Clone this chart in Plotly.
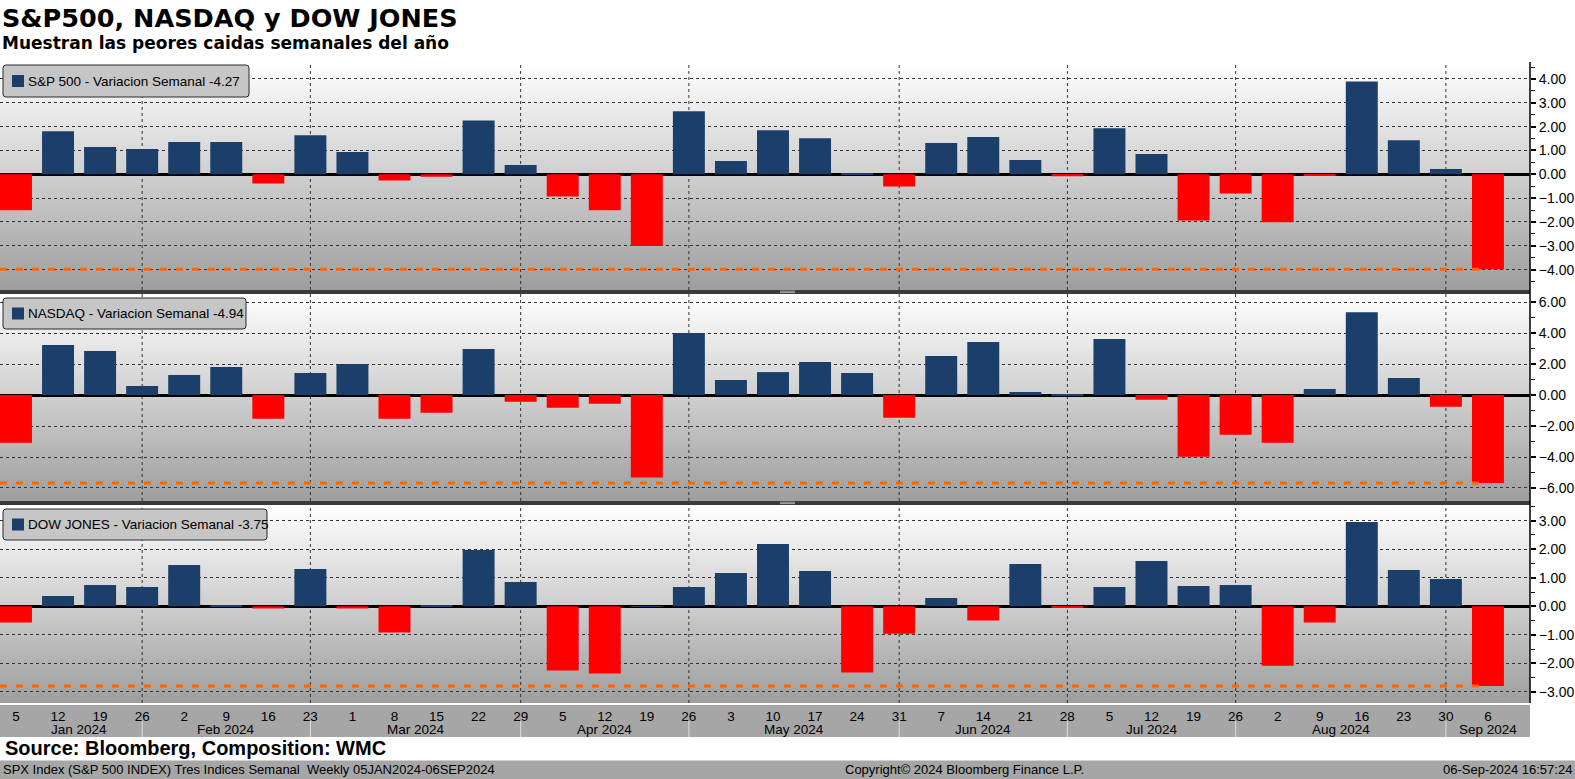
import pandas as pd
import plotly.graph_objects as go
from plotly.subplots import make_subplots

# Semanas (viernes)
weeks = pd.date_range("2024-01-05", "2024-09-06", freq="W-FRI")
day_labels = [str(d.day) for d in weeks]
month_names = ["Jan 2024", "Feb 2024", "Mar 2024", "Apr 2024", "May 2024",
               "Jun 2024", "Jul 2024", "Aug 2024", "Sep 2024"]

# Variacion semanal (%)
spx = [-1.51, 1.81, 1.14, 1.06, 1.35, 1.35, -0.39, 1.64, 0.93, -0.26, -0.10, 2.26,
       0.39, -0.93, -1.51, -3.01, 2.64, 0.56, 1.85, 1.51, 0.03, -0.51, 1.31, 1.56,
       0.60, -0.08, 1.93, 0.85, -1.94, -0.81, -2.01, -0.04, 3.89, 1.43, 0.22, -3.98]
ndx = [-3.08, 3.23, 2.84, 0.58, 1.29, 1.81, -1.53, 1.42, 2.00, -1.53, -1.14, 2.97,
       -0.43, -0.82, -0.56, -5.33, 4.00, 0.97, 1.48, 2.13, 1.42, -1.46, 2.52, 3.42,
       0.19, 0.02, 3.61, -0.30, -3.98, -2.56, -3.08, 0.39, 5.35, 1.10, -0.75, -5.68]
dji = [-0.57, 0.36, 0.75, 0.68, 1.45, 0.04, -0.08, 1.31, -0.08, -0.92, 0.02, 1.97,
       0.85, -2.25, -2.36, 0.01, 0.68, 1.17, 2.18, 1.24, -2.32, -0.96, 0.29, -0.50,
       1.48, -0.03, 0.68, 1.59, 0.71, 0.75, -2.08, -0.57, 2.95, 1.27, 0.96, -2.79]

names = ["S&P 500 - Variacion Semanal -4.27",
         "NASDAQ - Variacion Semanal -4.94",
         "DOW JONES - Variacion Semanal -3.75"]

BLUE = "#1b3f6a"
RED = "#ff0000"
ORANGE = "#ff6600"
FONT = "Liberation Sans, Arial, sans-serif"

W, H = 1575, 779
TOP, BOTTOM, RIGHT = 62, 703, 1530
PH = BOTTOM - TOP


def py(y):
    # pixel -> paper (vertical)
    return (BOTTOM - y) / PH


def px(x):
    return x / RIGHT


def round_box(x0, y0, x1, y1, r=3):
    # rectangulo redondeado en coordenadas paper (a partir de pixeles)
    return (f"M {px(x0 + r)},{py(y0)} L {px(x1 - r)},{py(y0)} "
            f"Q {px(x1)},{py(y0)} {px(x1)},{py(y0 + r)} L {px(x1)},{py(y1 - r)} "
            f"Q {px(x1)},{py(y1)} {px(x1 - r)},{py(y1)} L {px(x0 + r)},{py(y1)} "
            f"Q {px(x0)},{py(y1)} {px(x0)},{py(y1 - r)} L {px(x0)},{py(y0 + r)} "
            f"Q {px(x0)},{py(y0)} {px(x0 + r)},{py(y0)} Z")


idx = list(range(len(weeks)))
x_range = [-0.38, 36.0]

# fin de mes (ultimo viernes) salvo el ultimo mes
month_end = [int(g.index.max()) for _, g in
             pd.Series(idx, index=idx).groupby([d.month for d in weeks])][:-1]
bounds = [0] + month_end + [x_range[1]]
month_pos = [(bounds[i] + bounds[i + 1]) / 2 for i in range(len(month_names))]

panels = [
    dict(vals=spx, rng=[-4.855, 4.71], dtick=1, minor=0.5, dom=[py(290), 1.0],
         box=(3, 65, 249, 97)),
    dict(vals=ndx, rng=[-6.84, 6.52], dtick=2, minor=1, dom=[py(501), py(294)],
         box=(3, 298, 246, 329)),
    dict(vals=dji, rng=[-3.39, 3.55], dtick=1, minor=0.5, dom=[0.0, py(505)],
         box=(3, 509, 267, 540)),
]

fig = make_subplots(rows=3, cols=1, shared_xaxes=True)

shapes = []
annotations = []
for i, p in enumerate(panels):
    r = i + 1
    vals = p["vals"]
    pos = [v if v >= 0 else None for v in vals]
    neg = [v if v < 0 else None for v in vals]
    fig.add_trace(go.Bar(x=idx, y=pos, width=0.76, marker=dict(color=BLUE, line=dict(width=0)),
                         name=names[i], showlegend=False), row=r, col=1)
    fig.add_trace(go.Bar(x=idx, y=neg, width=0.76, marker=dict(color=RED, line=dict(width=0)),
                         showlegend=False), row=r, col=1)
    vmin = min(vals)
    fig.add_trace(go.Scatter(x=[x_range[0], idx[-1]], y=[vmin, vmin], mode="lines",
                             line=dict(color=ORANGE, width=3, dash="7px,9px"),
                             showlegend=False, hoverinfo="skip"), row=r, col=1)

    sfx = "" if r == 1 else str(r)
    # fondo degradado
    n = 60
    for k in range(n):
        t = (k + 0.5) / n
        g = int(round(158 + (255 - 158) * t))
        shapes.append(dict(type="rect", xref=f"x{sfx} domain", yref=f"y{sfx} domain",
                           x0=0, x1=1, y0=k / n, y1=min(1, (k + 1.6) / n), layer="below",
                           fillcolor=f"rgb({g},{g},{g})", line=dict(width=0)))
    # lineas verticales de fin de mes
    for m in month_end:
        shapes.append(dict(type="line", xref=f"x{sfx}", yref=f"y{sfx} domain",
                           x0=m, x1=m, y0=0, y1=1, layer="below",
                           line=dict(color="#333333", width=1, dash="dot")))

    fig.update_yaxes(row=r, col=1, side="right", range=p["rng"], dtick=p["dtick"],
                     tickformat=".2f", domain=p["dom"], automargin=False,
                     showgrid=True, gridcolor="#333333", griddash="dot", gridwidth=1,
                     zeroline=True, zerolinecolor="black", zerolinewidth=3,
                     ticks="outside", ticklen=5, tickwidth=2, tickcolor="black",
                     minor=dict(dtick=p["minor"], ticks="outside", ticklen=4,
                                tickcolor="black", tickwidth=1, showgrid=False),
                     tickfont=dict(family=FONT, size=14, color="black"),
                     showline=False, fixedrange=True)

    # caja de leyenda
    bx0, by0, bx1, by1 = p["box"]
    cy = (by0 + by1) / 2
    shapes.append(dict(type="path", xref="paper", yref="paper",
                       path=round_box(bx0, by0, bx1, by1), fillcolor="#c6c6c6",
                       line=dict(color="#2a2a2a", width=1), layer="above"))
    shapes.append(dict(type="rect", xref="paper", yref="paper",
                       x0=px(bx0 + 9), x1=px(bx0 + 21), y0=py(cy + 6), y1=py(cy - 6),
                       fillcolor=BLUE, line=dict(width=0), layer="above"))
    annotations.append(dict(
        xref="paper", yref="paper", x=px(bx0 + 23), y=py(cy), xanchor="left", yanchor="middle",
        text=names[i], showarrow=False, font=dict(family=FONT, size=13.5, color="black")))

fig.update_xaxes(range=x_range, showgrid=False, zeroline=False, fixedrange=True,
                 automargin=False)
fig.update_xaxes(row=1, col=1, showticklabels=False)
fig.update_xaxes(row=2, col=1, showticklabels=False)
fig.update_xaxes(row=3, col=1, tickmode="array", tickvals=idx, ticktext=day_labels,
                 ticks="", showline=True, linecolor="white", linewidth=2,
                 tickfont=dict(family=FONT, size=13.5, color="black"))

# etiquetas de mes
for name, mp in zip(month_names, month_pos):
    annotations.append(dict(xref="x3", yref="paper", x=mp, y=py(729), text=name,
                            showarrow=False, yanchor="middle",
                            font=dict(family=FONT, size=13.5, color="black")))

# zona de eje x
shapes.append(dict(type="rect", xref="paper", yref="paper", x0=0, x1=1, y0=py(737), y1=0,
                   fillcolor="#a6a6a6", line=dict(width=0), layer="below"))
for m in month_end:
    shapes.append(dict(type="line", xref="x3", yref="paper", x0=m, x1=m,
                       y0=py(737), y1=py(721), line=dict(color="#dcdcdc", width=1)))

# separadores entre paneles
for y0, y1 in [(290, 294), (501, 505)]:
    shapes.append(dict(type="rect", xref="paper", yref="paper", x0=0, x1=1,
                       y0=py(y1), y1=py(y0), fillcolor="#3a3a3a",
                       line=dict(width=0), layer="above"))
    for dy in (1.2, 2.6):
        shapes.append(dict(type="line", xref="paper", yref="paper", x0=px(780), x1=px(795),
                           y0=py(y0 + dy), y1=py(y0 + dy),
                           line=dict(color="#a8a8a8", width=1), layer="above"))

# eje vertical derecho
shapes.append(dict(type="line", xref="paper", yref="paper", x0=1, x1=1, y0=0, y1=1,
                   line=dict(color="black", width=1.5), layer="above"))

# pie
shapes.append(dict(type="rect", xref="paper", yref="paper", x0=0, x1=W / RIGHT,
                   y0=py(779), y1=py(760.5), fillcolor="#a6a6a6", line=dict(width=0),
                   layer="below"))

annotations += [
    dict(xref="paper", yref="paper", x=px(0), y=py(18), xanchor="left", yanchor="middle",
         text="<b>S&P500, NASDAQ y DOW JONES</b>", showarrow=False,
         font=dict(family="DejaVu Sans", size=25.5, color="black")),
    dict(xref="paper", yref="paper", x=px(0), y=py(43), xanchor="left", yanchor="middle",
         text="<b>Muestran las peores caidas semanales del año</b>", showarrow=False,
         font=dict(family="DejaVu Sans", size=17, color="black")),
    dict(xref="paper", yref="paper", x=px(3), y=py(748), xanchor="left", yanchor="middle",
         text="<b>Source: Bloomberg, Composition: WMC</b>", showarrow=False,
         font=dict(family=FONT, size=20, color="black")),
    dict(xref="paper", yref="paper", x=px(1), y=py(770), xanchor="left", yanchor="middle",
         text="SPX Index (S&P 500 INDEX) Tres Indices Semanal  Weekly 05JAN2024-06SEP2024",
         showarrow=False, font=dict(family=FONT, size=13, color="black")),
    dict(xref="paper", yref="paper", x=px(843), y=py(770), xanchor="left", yanchor="middle",
         text="Copyright© 2024 Bloomberg Finance L.P.", showarrow=False,
         font=dict(family=FONT, size=13, color="black")),
    dict(xref="paper", yref="paper", x=px(1574), y=py(770), xanchor="right", yanchor="middle",
         text="06-Sep-2024 16:57:24", showarrow=False,
         font=dict(family=FONT, size=13, color="black")),
]

fig.update_layout(
    width=W, height=H,
    margin=dict(l=0, r=W - RIGHT, t=TOP, b=H - BOTTOM),
    paper_bgcolor="white", plot_bgcolor="white",
    barmode="relative",
    showlegend=False,
    shapes=shapes,
    annotations=annotations,
    font=dict(family=FONT, color="black"),
)

# sin margen del body para que la figura ocupe toda la ventana
fig.write_html("out.html", config={"displayModeBar": False},
               post_script="document.body.style.margin='0';"
                           "document.body.style.overflow='hidden';")
